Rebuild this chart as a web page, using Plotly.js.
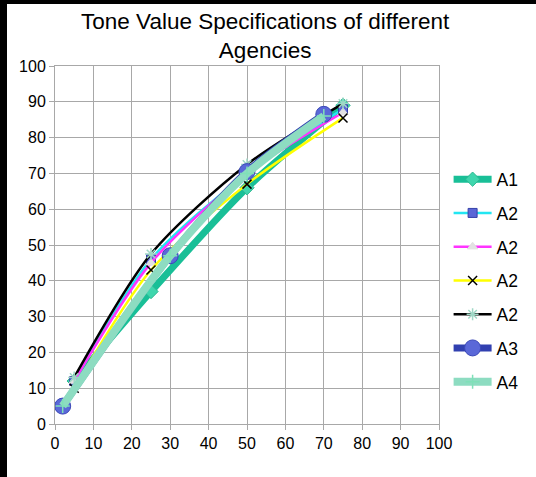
<!DOCTYPE html>
<html>
<head>
<meta charset="utf-8">
<script src="https://cdn.plot.ly/plotly-3.0.1.min.js"></script>
<style>
html,body{margin:0;padding:0;background:#000;width:536px;height:477px;overflow:hidden;}
#chart{position:absolute;left:7px;top:4px;width:529px;height:473px;background:#fff;}
</style>
</head>
<body>
<div id="chart"></div>
<script>
const names = ["A1","A2","A2","A2","A2","A3","A4"];
const xA1 = [5,25,50,75];
const yA1 = [12,37,66,89];
const xA2 = [5,25,50,75];
const yA2cyan = [12,46,70,88];
const yA2magenta = [12,45,70,87];
const yA2yellow = [10,43,67,85.5];
const yA2black = [13,47.5,72.5,89.5];
const xA3 = [2,30,50,70];
const yA3 = [5,47,70.5,86.5];
const xA4 = [2,30,50,70];
const yA4 = [5,47,70,86];

const styles = [
  {x:xA1,y:yA1,lc:"#19bf97",lw:7,sym:"diamond",ms:11,mc:"#3fd6ad",ml:"#2bb890"},
  {x:xA2,y:yA2cyan,lc:"#22e6f2",lw:2.5,sym:"square",ms:9,mc:"#5b66d6",ml:"#3440a8"},
  {x:xA2,y:yA2magenta,lc:"#ff33ff",lw:2.5,sym:"triangle-up",ms:9,mc:"#e2e2e2",ml:"#e2e2e2"},
  {x:xA2,y:yA2yellow,lc:"#ffff00",lw:2.5,sym:"x-thin",ms:9,mc:"#000000",ml:"#000000"},
  {x:xA2,y:yA2black,lc:"#000000",lw:2.5,sym:"asterisk",ms:10,mc:"#9fd8c6",ml:"#9fd8c6"},
  {x:xA3,y:yA3,lc:"#3140b0",lw:7,sym:"circle",ms:16,mc:"#5a68d8",ml:"#3a48b8"},
  {x:xA4,y:yA4,lc:"#8ddcc1",lw:8,sym:"cross-thin",ms:10,mc:"#7fe0b8",ml:"#7fe0b8"}
];

const traces = styles.map((s,i)=>({
  type:"scatter", mode:"lines+markers", name:names[i],
  x:s.x, y:s.y, legendgroup:"g"+i,
  line:{color:s.lc,width:s.lw,shape:"spline",smoothing:0.8},
  marker:{symbol:s.sym,size:s.ms,color:s.mc,line:{color:s.ml,width:(s.sym.indexOf("thin")>=0||s.sym==="asterisk")?1.5:1}}
}));

const axisCommon = {
  range:[0,100], dtick:10, tick0:0,
  showgrid:true, gridcolor:"#a8a8a8", gridwidth:1,
  zeroline:false, showline:true, linecolor:"#a8a8a8", linewidth:1, mirror:true,
  ticks:"outside", ticklen:5, tickcolor:"#a8a8a8",
  tickfont:{family:"Liberation Sans, Arial, sans-serif",size:16,color:"#000"},
  fixedrange:true
};

const layout = {
  width:529, height:473,
  paper_bgcolor:"#ffffff", plot_bgcolor:"#ffffff",
  margin:{l:48,r:88,t:62,b:53},
  font:{family:"Liberation Sans, Arial, sans-serif",color:"#000"},
  title:{text:"Tone Value Specifications of different<br>Agencies",
    font:{family:"Liberation Sans, Arial, sans-serif",size:22.5,color:"#000"},
    xref:"container",x:0.488,xanchor:"center",yref:"container",y:0.947,yanchor:"top"},
  xaxis:Object.assign({},axisCommon),
  yaxis:Object.assign({},axisCommon),
  showlegend:true,
  legend:{x:1.025,xanchor:"left",y:0.40,yanchor:"middle",
    font:{family:"Liberation Sans, Arial, sans-serif",size:17.5,color:"#000"},
    traceorder:"grouped",tracegroupgap:8,itemwidth:38,bgcolor:"rgba(0,0,0,0)"}
};

Plotly.newPlot("chart",traces,layout,{displayModeBar:false,staticPlot:true});
</script>
</body>
</html>
